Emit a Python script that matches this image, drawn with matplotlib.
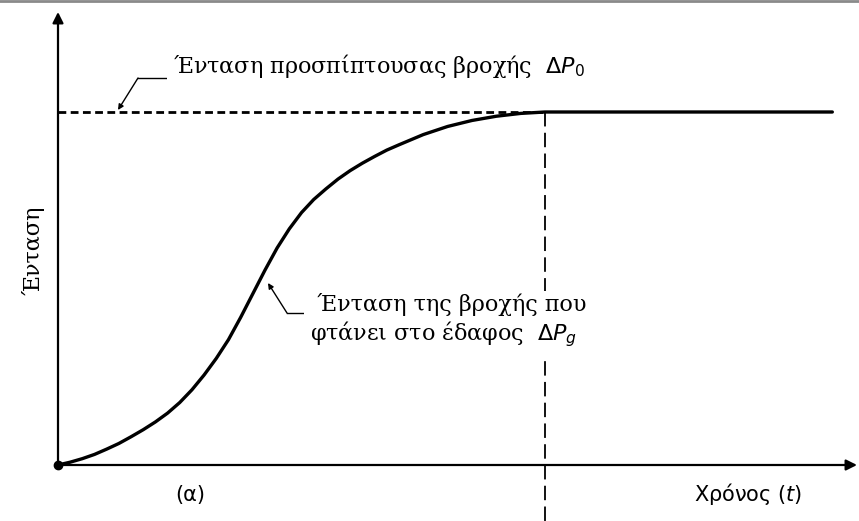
import matplotlib
matplotlib.use("Agg")
import matplotlib.pyplot as plt

# rainfall intensity reaching the ground vs time (normalised: ΔP0 = 1, t_c = 10)
t_values = [0, 0.25, 0.5, 0.75, 1.0, 1.25, 1.5, 1.75, 2.0, 2.25, 2.5, 2.75,
            3.0, 3.25, 3.5, 3.75, 4.0, 4.25, 4.5, 4.75, 5.0, 5.25, 5.5, 5.75,
            6.0, 6.25, 6.5, 6.75, 7.0, 7.5, 8.0, 8.5, 9.0, 9.5, 10.0, 15.9]
intensity = [0, 0.008, 0.018, 0.030, 0.045, 0.061, 0.080, 0.100, 0.122, 0.147,
             0.177, 0.213, 0.255, 0.302, 0.355, 0.418, 0.485, 0.552, 0.615,
             0.669, 0.715, 0.752, 0.782, 0.810, 0.834, 0.855, 0.874, 0.892,
             0.907, 0.936, 0.959, 0.976, 0.988, 0.996, 1.0, 1.0]
p0 = 1.0
t_c = 10.0

W, H = 859, 521
fig = plt.figure(figsize=(W / 100, H / 100), dpi=100)
ax = fig.add_axes([0, 0, 1, 1])
# frame layout: origin at (58, 465) px, 48.7 px per time unit, 353 px per intensity unit
ox, oy, sx, sy = 58, 465, 48.7, 353
y_bottom = -(H - oy) / sy
ax.set_xlim(-ox / sx, (W - ox) / sx)
ax.set_ylim(y_bottom, oy / sy)
ax.axis("off")

def fp(x, y):
    # figure pixels measured from the top-left corner
    return (x, H - y)

# axes with arrows
arrow = dict(arrowstyle="-|>", color="black", lw=1.6, mutation_scale=16,
             shrinkA=0, shrinkB=0)
ax.annotate("", xy=(0, (oy - 12) / sy), xytext=(0, 0), arrowprops=arrow)
ax.annotate("", xy=((W - 2 - ox) / sx, 0), xytext=(0, 0), arrowprops=arrow)
ax.plot([0], [0], "o", color="black", ms=6)

# incident rainfall level and time marker
ax.plot([0, t_c], [p0, p0], color="black", lw=2.0, dashes=(2.8, 1.6))
ax.plot([t_c, t_c], [p0, y_bottom], color="black", lw=1.3, dashes=(8, 3.5))

# curve
ax.plot(t_values, intensity, color="black", lw=2.4, solid_capstyle="round",
        solid_joinstyle="round")

serif = ["DejaVu Serif"]
box = dict(facecolor="white", edgecolor="none", pad=4)
fig.text(173 / W, 1 - 66 / H, "Ένταση προσπίπτουσας βροχής  $\\mathit{\\Delta P}_0$",
         family=serif, fontsize=16, va="center", ha="left", bbox=box)
fig.text(310 / W, 1 - 321 / H,
         " Ένταση της βροχής που\nφτάνει στο έδαφος  $\\mathit{\\Delta P}_g$",
         family=serif, fontsize=16, va="center", ha="left", linespacing=1.15,
         bbox=box)
fig.text(33 / W, 1 - 250 / H, "Ένταση", family=serif, fontsize=16,
         rotation=90, va="center", ha="center")
fig.text(190 / W, 1 - 495 / H, "(α)", family=["DejaVu Sans"], fontsize=15,
         va="center", ha="center")
fig.text(748 / W, 1 - 494 / H, "Χρόνος ($\\mathit{t}$)",
         family=["DejaVu Sans"], fontsize=15, va="center", ha="center")

# leader lines
lead = dict(arrowstyle="-|>", color="black", lw=1.0, mutation_scale=8,
            shrinkA=0, shrinkB=0)
fig.add_artist(plt.Line2D([138 / W, 170 / W], [1 - 78 / H, 1 - 78 / H],
                          color="black", lw=1.0))
ax.annotate("", xy=fp(118, 110), xytext=fp(138, 78), xycoords="figure pixels",
            textcoords="figure pixels", arrowprops=lead)
fig.add_artist(plt.Line2D([287 / W, 312 / W], [1 - 313 / H, 1 - 313 / H],
                          color="black", lw=1.0))
ax.annotate("", xy=fp(268, 283), xytext=fp(287, 313), xycoords="figure pixels",
            textcoords="figure pixels", arrowprops=lead)

# scan border at top
fig.add_artist(plt.Line2D([0, 1], [1 - 1 / H, 1 - 1 / H], color="#8a8a8a", lw=2))

fig.savefig("out.png", dpi=100)
